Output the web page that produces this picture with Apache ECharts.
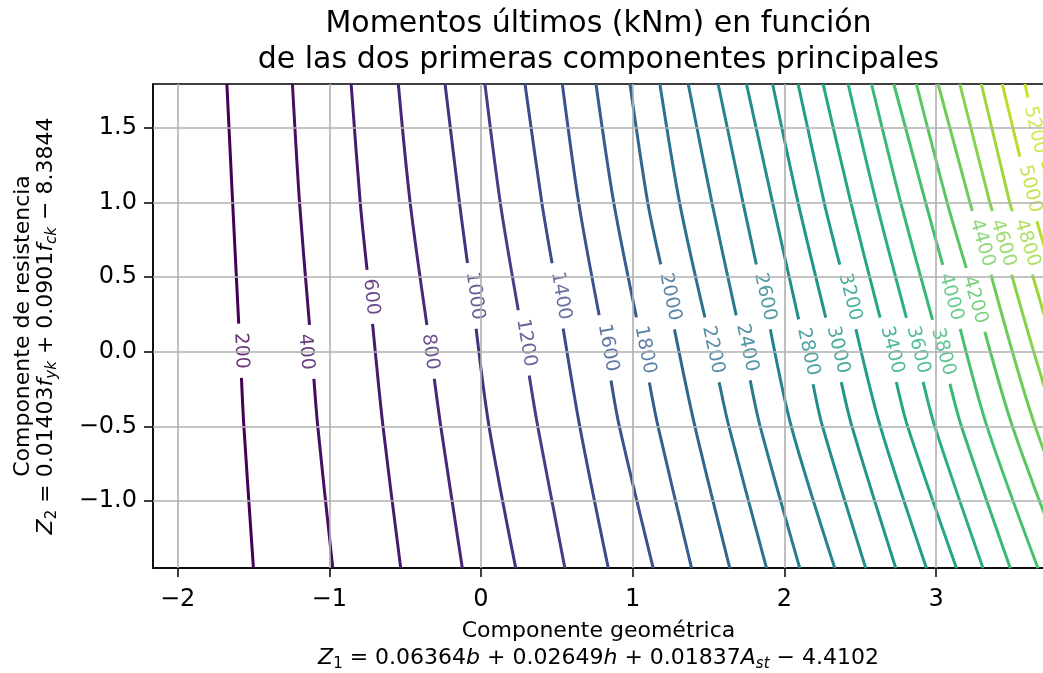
<!DOCTYPE html>
<html>
<head>
<meta charset="utf-8">
<script src="https://cdn.jsdelivr.net/npm/echarts@6/dist/echarts.min.js"></script>
<style>
  html, body { margin: 0; padding: 0; background: #fff; }
  #chart { width: 1043px; height: 673px; }
</style>
</head>
<body>
<div id="chart"></div>
<script>
// Contour levels of the ultimate moment (kNm)
const levels = [200, 400, 600, 800, 1000, 1200, 1400, 1600, 1800, 2000, 2200, 2400, 2600,
                2800, 3000, 3200, 3400, 3600, 3800, 4000, 4200, 4400, 4600, 4800, 5000, 5200];

// Z2 values at which each contour's Z1 position is sampled (top to bottom)
const rowY = [1.795, 1.0, -0.5, -1.45];

// Z1 position of every contour at each sampled Z2 row
const xAtTop = [-1.675, -1.243, -0.856, -0.545, -0.237, 0.026, 0.290, 0.536, 0.758, 0.982, 1.179, 1.366, 1.563,
                1.750, 1.922, 2.090, 2.255, 2.420, 2.574, 2.721, 2.870, 3.013, 3.156, 3.298, 3.436, 3.585];
const xAtOne = [-1.637, -1.196, -0.796, -0.467, -0.142, 0.127, 0.401, 0.644, 0.875, 1.099, 1.309, 1.522, 1.727,
                1.922, 2.090, 2.262, 2.438, 2.606, 2.767, 2.931, 3.073, 3.223, 3.354, 3.485, 3.625, 3.765];
const xAtMinusHalf = [-1.563, -1.076, -0.646, -0.265, 0.053, 0.374, 0.651, 0.912, 1.167, 1.410, 1.634, 1.840, 2.045,
                      2.251, 2.445, 2.632, 2.812, 2.991, 3.167, 3.335, 3.503, 3.653, 3.800, 3.950, 4.090, 4.230];
const xAtBottom = [-1.500, -0.977, -0.529, -0.123, 0.229, 0.553, 0.839, 1.135, 1.388, 1.640, 1.882, 2.101, 2.332,
                   2.536, 2.734, 2.936, 3.134, 3.309, 3.489, 3.671, 3.850, 4.020, 4.190, 4.360, 4.520, 4.680];

// Inline label anchors (Z1, Z2) for each contour
const labelX = [-1.582, -1.154, -0.725, -0.336, -0.040, 0.297, 0.527, 0.837, 1.081, 1.246, 1.529, 1.753, 1.872,
                2.156, 2.353, 2.432, 2.709, 2.881, 3.046, 3.098, 3.256, 3.303, 3.441, 3.599, 3.619, 3.652];
const labelY = [0.007, 0.000, 0.368, 0.000, 0.375, 0.060, 0.375, 0.027, 0.013, 0.368, 0.013, 0.027, 0.368,
                0.000, 0.013, 0.368, 0.013, 0.013, 0.000, 0.368, 0.348, 0.730, 0.730, 0.730, 1.092, 1.487];

const xTicks = [-2, -1, 0, 1, 2, 3];
const yTicks = [-1.0, -0.5, 0.0, 0.5, 1.0, 1.5];

// Axis extents and plot box
const X_MIN = -2.162, X_MAX = 3.711;
const Y_MIN = -1.449, Y_MAX = 1.795;
const GRID = { left: 153, right: -1, top: 84, bottom: 105 };
const W = 1043, H = 673;
const pxPerX = (W - GRID.left - GRID.right) / (X_MAX - X_MIN);
const pxPerY = (H - GRID.top - GRID.bottom) / (Y_MAX - Y_MIN);

const FONT = 'DejaVu Sans';
const LABEL_FS = 19;

// viridis colour map
const VIRIDIS = ['#440154', '#482475', '#414487', '#355f8d', '#2a788e', '#21918c',
                 '#22a884', '#44bf70', '#7ad151', '#bddf26', '#fde725'];
function hexToRgb(h) { return [1, 3, 5].map(i => parseInt(h.slice(i, i + 2), 16)); }
function viridis(t) {
  t = Math.max(0, Math.min(1, t));
  const p = t * (VIRIDIS.length - 1);
  const i = Math.min(Math.floor(p), VIRIDIS.length - 2);
  const f = p - i;
  const a = hexToRgb(VIRIDIS[i]), b = hexToRgb(VIRIDIS[i + 1]);
  const c = a.map((v, k) => Math.round(v + (b[k] - v) * f));
  return 'rgb(' + c.join(',') + ')';
}
const NORM_MIN = 200, NORM_MAX = 5600;
const colorOf = lv => viridis((lv - NORM_MIN) / (NORM_MAX - NORM_MIN));

// index of the polyline segment that spans a given Z2
function segmentAt(pts, y) {
  for (let i = 0; i < pts.length - 1; i++) {
    if (y <= pts[i][1] && y >= pts[i + 1][1]) return i;
  }
  return y > pts[0][1] ? 0 : pts.length - 2;
}
function xOn(pts, y) {
  const i = segmentAt(pts, y);
  const [x1, y1] = pts[i], [x2, y2] = pts[i + 1];
  return x1 + (x2 - x1) * (y - y1) / (y2 - y1);
}

const series = [];

// grid lines, drawn beneath the contours
series.push({
  type: 'line', data: [], z: 1, silent: true,
  markLine: {
    silent: true, symbol: ['none', 'none'], label: { show: false }, animation: false,
    lineStyle: { color: '#b0b0b0', width: 1.6, type: 'solid' },
    data: xTicks.map(v => ({ xAxis: v })).concat(yTicks.map(v => ({ yAxis: v })))
  }
});

const labelData = [];
levels.forEach((lv, k) => {
  const pts = [xAtTop[k], xAtOne[k], xAtMinusHalf[k], xAtBottom[k]].map((x, j) => [x, rowY[j]]);
  const color = colorOf(lv);
  const ly = labelY[k];
  const i = segmentAt(pts, ly);
  const dxPx = (pts[i + 1][0] - pts[i][0]) * pxPerX;
  const dyPx = (pts[i][1] - pts[i + 1][1]) * pxPerY;
  const len = Math.hypot(dxPx, dyPx);
  const angle = Math.atan2(dyPx, dxPx) * 180 / Math.PI;
  // gap left in the line around the inline label
  const halfGap = String(lv).length * LABEL_FS * 0.318 + 9;
  const dy = halfGap * (dyPx / len) / pxPerY;
  const yHi = ly + dy, yLo = ly - dy;
  const upper = pts.filter(p => p[1] > yHi).concat([[xOn(pts, yHi), yHi]]);
  const lower = [[xOn(pts, yLo), yLo]].concat(pts.filter(p => p[1] < yLo));
  [upper, lower].forEach(part => {
    series.push({
      type: 'line', data: part, z: 2, showSymbol: false, symbol: 'none', silent: true,
      smooth: 0.3, clip: true, animation: false,
      lineStyle: { color: color, width: 3, cap: 'butt' }
    });
  });
  labelData.push({
    value: [labelX[k], ly, lv],
    label: { rotate: -angle, color: color }
  });
});

// inline contour labels
series.push({
  type: 'scatter', z: 3, symbolSize: 1, silent: true, clip: false, animation: false,
  itemStyle: { color: 'rgba(0,0,0,0)' },
  label: {
    show: true, position: 'inside', fontFamily: FONT, fontSize: LABEL_FS,
    formatter: p => String(p.value[2])
  },
  data: labelData
});

const minus = s => s.replace('-', '\u2212');
const mathRich = (fs, lh) => ({
  n: { fontFamily: FONT, fontSize: fs, color: '#000', lineHeight: lh },
  m: { fontFamily: FONT, fontSize: fs, fontStyle: 'italic', color: '#000', lineHeight: lh },
  s: { fontFamily: FONT, fontSize: Math.round(fs * 0.7), fontStyle: 'italic', color: '#000', lineHeight: lh, padding: [12, 0, 0, 0] },
  d: { fontFamily: FONT, fontSize: Math.round(fs * 0.7), color: '#000', lineHeight: lh, padding: [12, 0, 0, 0] }
});

const chart = echarts.init(document.getElementById('chart'), null, { renderer: 'canvas' });
chart.setOption({
  animation: false,
  backgroundColor: '#fff',
  title: {
    text: 'Momentos últimos (kNm) en función\nde las dos primeras componentes principales',
    left: 598.5, top: 6, padding: 0, textAlign: 'center',
    textStyle: { fontFamily: FONT, fontSize: 30, fontWeight: 'normal', color: '#000', lineHeight: 36 }
  },
  grid: {
    left: GRID.left, right: GRID.right, top: GRID.top, bottom: GRID.bottom,
    outerBoundsMode: 'none', containLabel: false,
    show: true, borderColor: '#000', borderWidth: 1.5, backgroundColor: 'transparent'
  },
  xAxis: {
    type: 'value', min: X_MIN, max: X_MAX,
    axisLine: { show: true, onZero: false, lineStyle: { color: '#000', width: 1.5 } },
    axisTick: { show: true, length: 9, customValues: xTicks, lineStyle: { color: '#000', width: 1.5 } },
    axisLabel: {
      customValues: xTicks, margin: 20, fontFamily: FONT, fontSize: 24, color: '#000',
      formatter: v => minus(String(v))
    },
    splitLine: { show: false },
    name: '{n|Componente geométrica}\n{m|Z}{d|1}{n| = 0.06364}{m|b}{n| + 0.02649}{m|h}{n| + 0.01837}{m|A}{s|st}{n| \u2212 4.4102}',
    nameLocation: 'middle', nameGap: 50,
    nameTextStyle: { fontFamily: FONT, fontSize: 22, color: '#000', lineHeight: 27, rich: mathRich(22, 27) }
  },
  yAxis: {
    type: 'value', min: Y_MIN, max: Y_MAX,
    axisLine: { show: true, onZero: false, lineStyle: { color: '#000', width: 1.5 } },
    axisTick: { show: true, length: 9, customValues: yTicks, lineStyle: { color: '#000', width: 1.5 } },
    axisLabel: {
      customValues: yTicks, margin: 16, fontFamily: FONT, fontSize: 24, color: '#000',
      formatter: v => minus(v.toFixed(1))
    },
    splitLine: { show: false },
    name: '{n|Componente de resistencia}\n{m|Z}{d|2}{n| = 0.01403}{m|f}{s|yk}{n| + 0.0901}{m|f}{s|ck}{n| \u2212 8.3844}',
    nameLocation: 'middle', nameRotate: 90, nameGap: 95,
    nameTextStyle: { fontFamily: FONT, fontSize: 22, color: '#000', lineHeight: 23, rich: mathRich(22, 23) }
  },
  series: series
});
</script>
</body>
</html>
